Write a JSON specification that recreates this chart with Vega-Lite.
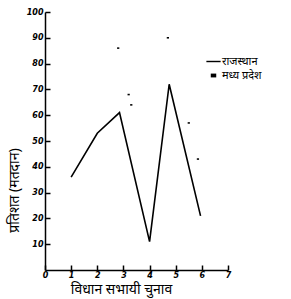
{
  "$schema": "https://vega.github.io/schema/vega-lite/v6.json",
  "width": 183,
  "height": 258,
  "autosize": {"type": "none"},
  "padding": {"left": 45, "top": 12, "right": 63, "bottom": 29},
  "background": "white",
  "config": {
    "view": {"stroke": null},
    "font": "Noto Sans",
    "axis": {
      "domainColor": "black", "domainWidth": 1.5, "ticks": true, "tickColor": "black", "tickWidth": 1.5,
      "grid": false, "labelColor": "black", "labelFont": "DejaVu Sans", "labelFontSize": 8,
      "labelFontStyle": "italic", "labelFontWeight": "bold", "labelOverlap": false, "titleColor": "black",
      "titleFontWeight": "normal", "titleFontSize": 14
    },
    "axisQuantitative": {"labelOverlap": false, "ticks": true}
  },
  "datasets": {
    "raj": [
      {"chunav": 1, "pratishat": 36},
      {"chunav": 2, "pratishat": 53},
      {"chunav": 2.85, "pratishat": 61},
      {"chunav": 4, "pratishat": 11},
      {"chunav": 4.75, "pratishat": 72},
      {"chunav": 5.95, "pratishat": 21}
    ],
    "mp": [
      {"chunav": 2.8, "pratishat": 86, "rajya": "मध्य प्रदेश"},
      {"chunav": 3.2, "pratishat": 68, "rajya": "मध्य प्रदेश"},
      {"chunav": 3.3, "pratishat": 64, "rajya": "मध्य प्रदेश"},
      {"chunav": 4.7, "pratishat": 90, "rajya": "मध्य प्रदेश"},
      {"chunav": 5.5, "pratishat": 57, "rajya": "मध्य प्रदेश"},
      {"chunav": 5.85, "pratishat": 43, "rajya": "मध्य प्रदेश"}
    ]
  },
  "encoding": {
    "x": {
      "field": "chunav", "type": "quantitative",
      "scale": {"domain": [0, 7], "nice": false},
      "axis": {"values": [0, 1, 2, 3, 4, 5, 6, 7], "tickSize": -5, "labelPadding": 6, "labelOverlap": false,
               "labelFlush": false, "title": "विधान सभायी चुनाव", "titleX": 76, "titleY": 19, "titleBaseline": "middle"}
    },
    "y": {
      "field": "pratishat", "type": "quantitative",
      "scale": {"domain": [0, 100], "nice": false},
      "axis": {"values": [10, 20, 30, 40, 50, 60, 70, 80, 90, 100], "tickSize": -5, "labelPadding": 7,
               "labelOverlap": false, "labelFlush": false,
               "title": "प्रतिशत (मतदान)", "titleX": -31, "titleY": 178, "titleBaseline": "middle"}
    }
  },
  "layer": [
    {
      "data": {"name": "raj"},
      "mark": {"type": "line", "color": "black", "strokeWidth": 1.6}
    },
    {
      "data": {"name": "mp"},
      "mark": {"type": "point", "filled": true, "color": "black", "size": 20, "opacity": 1},
      "encoding": {
        "shape": {
          "field": "rajya", "type": "nominal",
          "scale": {"domain": ["राजस्थान", "मध्य प्रदेश"], "range": ["M-1.3,-0.13h2.6v0.26h-2.6z", "M-0.5,-0.35h1v0.7h-1z"]},
          "legend": {
            "title": null, "orient": "none", "legendX": 163, "legendY": 44,
            "symbolSize": 120, "symbolFillColor": "black", "symbolStrokeWidth": 0,
            "labelFontSize": 11, "labelColor": "black", "rowPadding": 2, "labelOffset": 3
          }
        }
      }
    }
  ]
}
